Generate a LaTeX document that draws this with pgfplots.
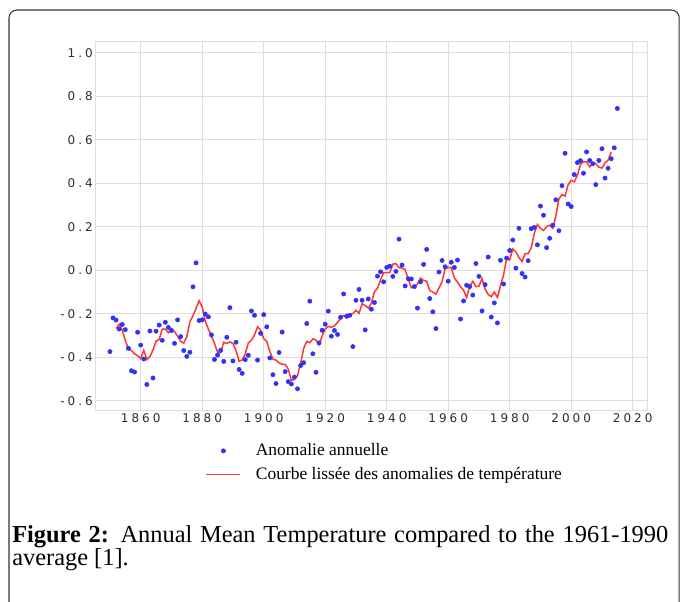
\documentclass[border=0pt]{standalone}
\usepackage{fontspec}
\setmainfont{Liberation Serif}
\newfontfamily\tickfont[LetterSpace=25]{DejaVu Sans}
\usepackage{pgfplots}
\pgfplotsset{compat=1.18}
\usepackage{pgfplotstable}
\definecolor{gridgray}{RGB}{222,222,222}
\definecolor{dotblue}{RGB}{50,50,245}
\definecolor{linered}{RGB}{255,55,55}
\definecolor{tickgray}{RGB}{45,45,45}

\pgfplotstableread{
year anom
1850 -0.373
1851 -0.218
1852 -0.228
1853 -0.269
1854 -0.248
1855 -0.272
1856 -0.358
1857 -0.461
1858 -0.467
1859 -0.284
1860 -0.343
1861 -0.407
1862 -0.524
1863 -0.278
1864 -0.494
1865 -0.279
1866 -0.251
1867 -0.321
1868 -0.238
1869 -0.262
1870 -0.276
1871 -0.335
1872 -0.227
1873 -0.304
1874 -0.368
1875 -0.395
1876 -0.376
1877 -0.075
1878 0.035
1879 -0.230
1880 -0.227
1881 -0.200
1882 -0.213
1883 -0.296
1884 -0.409
1885 -0.389
1886 -0.367
1887 -0.418
1888 -0.307
1889 -0.171
1890 -0.416
1891 -0.330
1892 -0.455
1893 -0.473
1894 -0.410
1895 -0.390
1896 -0.186
1897 -0.206
1898 -0.412
1899 -0.289
1900 -0.203
1901 -0.259
1902 -0.402
1903 -0.479
1904 -0.520
1905 -0.377
1906 -0.283
1907 -0.465
1908 -0.511
1909 -0.522
1910 -0.490
1911 -0.544
1912 -0.437
1913 -0.424
1914 -0.244
1915 -0.141
1916 -0.383
1917 -0.468
1918 -0.333
1919 -0.275
1920 -0.247
1921 -0.187
1922 -0.302
1923 -0.276
1924 -0.294
1925 -0.215
1926 -0.108
1927 -0.210
1928 -0.206
1929 -0.350
1930 -0.137
1931 -0.087
1932 -0.137
1933 -0.273
1934 -0.131
1935 -0.178
1936 -0.147
1937 -0.026
1938 -0.006
1939 -0.052
1940 0.014
1941 0.020
1942 -0.027
1943 -0.004
1944 0.144
1945 0.025
1946 -0.071
1947 -0.038
1948 -0.039
1949 -0.074
1950 -0.173
1951 -0.052
1952 0.028
1953 0.097
1954 -0.129
1955 -0.190
1956 -0.267
1957 -0.007
1958 0.046
1959 0.017
1960 -0.049
1961 0.038
1962 0.014
1963 0.048
1964 -0.223
1965 -0.140
1966 -0.068
1967 -0.074
1968 -0.113
1969 0.032
1970 -0.027
1971 -0.186
1972 -0.065
1973 0.062
1974 -0.214
1975 -0.149
1976 -0.241
1977 0.047
1978 -0.062
1979 0.057
1980 0.092
1981 0.140
1982 0.011
1983 0.194
1984 -0.014
1985 -0.030
1986 0.045
1987 0.192
1988 0.198
1989 0.118
1990 0.296
1991 0.254
1992 0.105
1993 0.148
1994 0.208
1995 0.325
1996 0.183
1997 0.390
1998 0.539
1999 0.306
2000 0.294
2001 0.441
2002 0.496
2003 0.505
2004 0.447
2005 0.545
2006 0.506
2007 0.491
2008 0.395
2009 0.506
2010 0.560
2011 0.425
2012 0.470
2013 0.514
2014 0.564
2015 0.745
}\annual

\pgfplotstableread{
year smooth
1852 -0.267
1853 -0.247
1854 -0.275
1855 -0.322
1856 -0.361
1857 -0.368
1858 -0.383
1859 -0.392
1860 -0.405
1861 -0.367
1862 -0.409
1863 -0.396
1864 -0.365
1865 -0.325
1866 -0.317
1867 -0.270
1868 -0.270
1869 -0.286
1870 -0.268
1871 -0.281
1872 -0.302
1873 -0.326
1874 -0.334
1875 -0.304
1876 -0.236
1877 -0.208
1878 -0.175
1879 -0.139
1880 -0.167
1881 -0.233
1882 -0.269
1883 -0.301
1884 -0.335
1885 -0.376
1886 -0.378
1887 -0.330
1888 -0.336
1889 -0.328
1890 -0.336
1891 -0.369
1892 -0.417
1893 -0.412
1894 -0.383
1895 -0.333
1896 -0.321
1897 -0.297
1898 -0.259
1899 -0.274
1900 -0.313
1901 -0.326
1902 -0.373
1903 -0.407
1904 -0.412
1905 -0.425
1906 -0.431
1907 -0.432
1908 -0.454
1909 -0.506
1910 -0.501
1911 -0.483
1912 -0.428
1913 -0.358
1914 -0.326
1915 -0.332
1916 -0.314
1917 -0.320
1918 -0.341
1919 -0.302
1920 -0.269
1921 -0.257
1922 -0.261
1923 -0.255
1924 -0.239
1925 -0.221
1926 -0.207
1927 -0.218
1928 -0.202
1929 -0.198
1930 -0.183
1931 -0.197
1932 -0.153
1933 -0.161
1934 -0.173
1935 -0.151
1936 -0.098
1937 -0.082
1938 -0.043
1939 -0.010
1940 -0.010
1941 -0.010
1942 0.029
1943 0.032
1944 0.013
1945 0.011
1946 0.004
1947 -0.039
1948 -0.079
1949 -0.075
1950 -0.062
1951 -0.035
1952 -0.046
1953 -0.049
1954 -0.092
1955 -0.099
1956 -0.109
1957 -0.080
1958 -0.052
1959 0.009
1960 0.013
1961 0.014
1962 -0.034
1963 -0.053
1964 -0.074
1965 -0.091
1966 -0.124
1967 -0.073
1968 -0.050
1969 -0.074
1970 -0.072
1971 -0.037
1972 -0.086
1973 -0.110
1974 -0.121
1975 -0.099
1976 -0.124
1977 -0.070
1978 -0.021
1979 0.055
1980 0.048
1981 0.099
1982 0.085
1983 0.060
1984 0.041
1985 0.077
1986 0.078
1987 0.105
1988 0.170
1989 0.212
1990 0.194
1991 0.184
1992 0.202
1993 0.208
1994 0.194
1995 0.251
1996 0.329
1997 0.349
1998 0.342
1999 0.394
2000 0.415
2001 0.408
2002 0.437
2003 0.487
2004 0.500
2005 0.499
2006 0.477
2007 0.489
2008 0.492
2009 0.475
2010 0.471
2011 0.495
2012 0.507
2013 0.544
}\smoothed

\begin{document}
\begin{tikzpicture}
\useasboundingbox (0,0) rectangle (510.75pt,451.5pt);
% outer frame of the figure box
\draw[line width=0.8pt, black!80, rounded corners=6pt]
  (6.75pt,0pt) -- (6.75pt,444pt) -- (509.4pt,444pt) -- (509.4pt,0pt);
\begin{axis}[
  at={(71.25pt,143.25pt)}, anchor=south west,
  scale only axis, width=414pt, height=276.75pt,
  xmin=1845.14, xmax=2024.65, ymin=-0.646, ymax=1.0506,
  xtick={1860,1880,1900,1920,1940,1960,1980,2000,2020},
  ytick={-0.6,-0.4,-0.2,0,0.2,0.4,0.6,0.8,1.0},
  grid=major,
  major grid style={gridgray, line width=0.75pt},
  axis line style={gridgray, line width=0.75pt},
  major tick length=0pt,
  /pgf/number format/assume math mode=true,
  ticklabel style={font=\tickfont\fontsize{9}{10}\selectfont, text=tickgray},
  xticklabel style={/pgf/number format/1000 sep={}, inner sep=2pt},
  yticklabel style={/pgf/number format/fixed, /pgf/number format/fixed zerofill, /pgf/number format/precision=1, inner sep=1.5pt},
  legend style={at={(0.200,-0.081)}, anchor=north west, draw=none, fill=none,
    font=\fontsize{13.1}{15}\selectfont, row sep=3pt, inner sep=0pt,
    column sep=9pt, cells={anchor=west}},
  legend image code/.code={\draw[mark repeat=2,mark phase=2,#1] plot coordinates {(0pt,0pt) (12.75pt,0pt) (25.5pt,0pt)};},
]
\addplot[only marks, mark=*, mark size=1.6pt, dotblue, draw=none, fill=dotblue]
  table[x=year, y=anom] {\annual};
\addlegendentry{Anomalie annuelle}
\addplot[linered, line width=1.15pt, no marks]
  table[x=year, y=smooth] {\smoothed};
\addlegendentry{Courbe lissée des anomalies de température}
\end{axis}
% caption
\node[anchor=base west, inner sep=0pt] at (9pt,44.25pt)
  {\fontsize{18.3}{18}\selectfont\makebox[492pt][s]{\textbf{Figure 2:} Annual Mean Temperature compared to the 1961-1990}};
\node[anchor=base west, inner sep=0pt] at (9pt,27pt)
  {\fontsize{18.3}{18}\selectfont average [1].};
\end{tikzpicture}
\end{document}
